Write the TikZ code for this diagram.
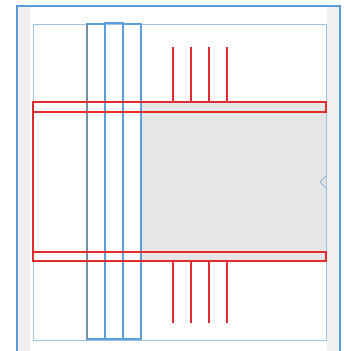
\documentclass[tikz,border=0pt]{standalone}
\usepackage{tikz}
\definecolor{framebl}{RGB}{91,155,213}
\definecolor{lightbl}{RGB}{157,195,230}
\definecolor{colbl}{RGB}{90,160,220}
\definecolor{redln}{RGB}{225,45,45}
\definecolor{fillgr}{RGB}{230,230,230}
\definecolor{sidegr}{RGB}{240,240,240}

\begin{document}
\begin{tikzpicture}[x=1pt,y=-1pt]
\useasboundingbox (0,0) rectangle (343,351);
% window
\fill[sidegr] (18,6) rectangle (30,351);
\fill[sidegr] (327,6) rectangle (339,351);
\draw[framebl, line width=2pt] (17,352) -- (17,5.5) -- (340,5.5) -- (340,352);
% shaded band
\fill[fillgr] (141,102) rectangle (326,261);
\draw[lightbl, line width=1pt] (33,24) rectangle (326,340);
% columns
\begin{scope}[colbl, line width=1.1pt]
\draw (87,24) rectangle (105,339);
\draw (105,23) rectangle (123,339);
\draw (123,24) rectangle (141,339);
\draw[colbl!60!black!70] (87,24) -- (87,339);
\end{scope}
% rows
\begin{scope}[redln, line width=1.1pt]
\draw (33,102) rectangle (326,112);
\draw (33,252) rectangle (326,261);
\draw (33,112) -- (33,252);
\foreach \x in {173,191,209,227} {
  \draw (\x,47) -- (\x,102);
  \draw (\x,261) -- (\x,323);
}
\end{scope}
\draw[lightbl!80!gray, line width=1pt] (327,175) -- (320,182) -- (327,189);
\end{tikzpicture}
\end{document}
